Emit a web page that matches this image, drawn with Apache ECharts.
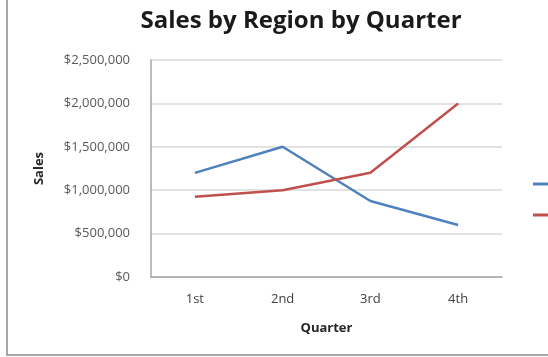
<!DOCTYPE html>
<html>
<head>
<meta charset="utf-8">
<script src="https://cdn.jsdelivr.net/npm/echarts@6/dist/echarts.min.js"></script>
<style>
  html, body { margin: 0; padding: 0; background: #ffffff; }
  #chart { width: 548px; height: 357px; }
</style>
</head>
<body>
<div id="chart"></div>
<script>
// Quarterly sales per region
const quarters = ['1st', '2nd', '3rd', '4th'];
const eastSales = [1200000, 1500000, 875000, 600000];
const westSales = [925000, 1000000, 1200000, 2000000];
const seriesNames = ['East', 'West'];
const yTicks = { min: 0, max: 2500000, step: 500000 };

const FONT = '"Open Sans", "Noto Sans", sans-serif';

function money(v) {
  return '$' + v.toString().replace(/\B(?=(\d{3})+(?!\d))/g, ',');
}

const chart = echarts.init(document.getElementById('chart'), null, { renderer: 'canvas' });

chart.setOption({
  backgroundColor: '#ffffff',
  animation: false,
  color: ['#4F81BD', '#C0504D'],
  title: {
    text: 'Sales by Region by Quarter',
    left: 296,
    textAlign: 'center',
    top: 4,
    textStyle: { fontFamily: FONT, fontWeight: 'bold', fontSize: 24, color: '#1a1a1a' }
  },
  legend: {
    orient: 'vertical',
    left: 528,
    top: 173,
    itemWidth: 24,
    itemHeight: 3,
    itemGap: 19,
    icon: 'rect',
    data: seriesNames,
    textStyle: { fontFamily: FONT, fontSize: 12, color: '#404040' }
  },
  grid: { left: 151, right: 46, top: 60, bottom: 80, containLabel: false },
  xAxis: {
    type: 'category',
    data: quarters,
    boundaryGap: true,
    name: 'Quarter',
    nameLocation: 'middle',
    nameGap: 45,
    nameTextStyle: { fontFamily: FONT, fontWeight: 'bold', fontSize: 13, color: '#262626' },
    axisLine: { lineStyle: { color: '#a6a6a6', width: 1.5 } },
    axisTick: { show: false },
    axisLabel: { margin: 16, fontFamily: FONT, fontSize: 13, color: '#404040' }
  },
  yAxis: {
    type: 'value',
    min: yTicks.min,
    max: yTicks.max,
    interval: yTicks.step,
    name: 'Sales',
    nameLocation: 'middle',
    nameGap: 105,
    nameRotate: 90,
    nameTextStyle: { fontFamily: FONT, fontWeight: 'bold', fontSize: 13, color: '#262626' },
    axisLine: { show: true, lineStyle: { color: '#a6a6a6', width: 1.5 } },
    axisTick: { show: false },
    splitLine: { lineStyle: { color: '#d9d9d9', width: 1.5 } },
    axisLabel: { margin: 21, fontFamily: FONT, fontSize: 13, color: '#595959', formatter: money }
  },
  series: [
    {
      name: seriesNames[0],
      type: 'line',
      data: eastSales,
      symbol: 'none',
      lineStyle: { width: 2.5, color: '#4F81BD' }
    },
    {
      name: seriesNames[1],
      type: 'line',
      data: westSales,
      symbol: 'none',
      lineStyle: { width: 2.5, color: '#C0504D' }
    }
  ],
  graphic: [
    {
      type: 'rect',
      shape: { x: 7, y: -10, width: 600, height: 365 },
      style: { fill: 'none', stroke: '#8c8c8c', lineWidth: 1.5 },
      silent: true
    }
  ]
});
</script>
</body>
</html>
